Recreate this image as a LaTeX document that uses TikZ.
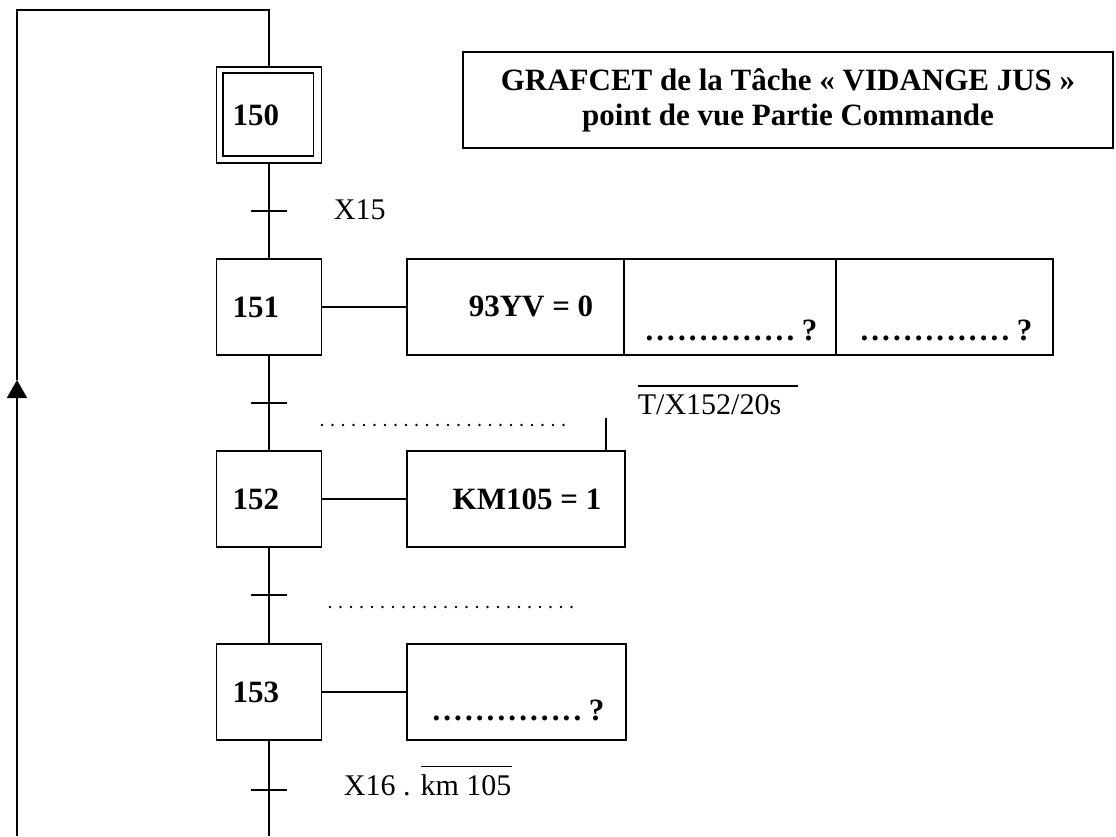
\documentclass[tikz,border=0pt]{standalone}
\usepackage{fontspec}
\setmainfont{Liberation Serif}
\usetikzlibrary{arrows.meta}
\newcommand\dotrow[1]{\hbox to #1{\xleaders\hbox to 10.7pt{\hss.\hss}\hfill}}
\newcommand\overtxt[2]{\vbox{\hrule height 1.6pt width #2\kern 7pt\hbox{#1}}}
\begin{document}
\begin{tikzpicture}[x=1pt,y=-1pt,line width=1.8pt,
  stepbox/.style={draw,minimum height=96pt,text width=73pt,inner xsep=16pt,inner ysep=0pt,align=left,
    font=\fontsize{31}{31}\selectfont\bfseries},
  actbox/.style={draw,minimum height=96pt,inner sep=0pt},
  bold/.style={inner sep=0pt,font=\fontsize{31}{31}\selectfont\bfseries},
  reg/.style={inner sep=0pt,font=\fontsize{30}{30}\selectfont},
  tick/.style={line width=1.8pt},
  dotted line/.style={line width=2.8pt,line cap=round,dash pattern=on 0pt off 10.5pt},
  titlebox/.style={draw,minimum width=650pt,minimum height=96pt,align=center,
    font=\fontsize{31}{35}\selectfont\bfseries}]
\useasboundingbox (0,0) rectangle (1116,836);

% title
\node[titlebox] (title) at (788,100) {GRAFCET de la Tâche « VIDANGE JUS »\\point de vue Partie Commande};

% steps
\node[stepbox] (s150) at (269,115) {150};
\draw ([shift={(7pt,-7pt)}]s150.north west) rectangle ([shift={(-9pt,8pt)}]s150.south east);
\node[stepbox] (s151) at (269,307) {151};
\node[stepbox] (s152) at (269,499) {152};
\node[stepbox] (s153) at (269,692) {153};

% action boxes
\node[actbox,minimum width=217pt] (a1) at (515.5,307) {};
\node[actbox,minimum width=212pt] (a2) at (730,307) {};
\node[actbox,minimum width=217pt] (a3) at (944.5,307) {};
\node[actbox,minimum width=218pt] (a4) at (516,499) {};
\node[actbox,minimum width=219pt] (a5) at (516.5,692) {};

\node[bold] (t1) at (531,306) {93YV = 0};
\node[bold,anchor=base west] (q2) at (643,340) {\dotrow{152pt}\kern6pt?};
\node[bold,anchor=base west] (q3) at (858,340) {\dotrow{152pt}\kern6pt?};
\node[bold] (t4) at (527,499) {KM105 = 1};
\node[bold,anchor=base west] (q5) at (430,720) {\dotrow{152pt}\kern6pt?};

% step to action links
\draw (s151.east) -- (a1.west);
\draw (s152.east) -- (a4.west);
\draw (s153.east) -- (a5.west);

% main line and loop
\coordinate (top) at (269,10);
\coordinate (tl) at (17,10);
\coordinate (bl) at (17,836);
\coordinate (ar) at (17,380);
\coordinate (bot) at (269,836);
\draw (s150.north) -- (top) -- (tl) -- (ar);
\draw[-{Triangle[length=18pt,width=20pt]}] (bl) -- (ar);
\draw (s150.south) -- (s151.north);
\draw (s151.south) -- (s152.north);
\draw (s152.south) -- (s153.north);
\draw (s153.south) -- (bot);

% transitions
\coordinate (c1) at (269,211);
\coordinate (c2) at (269,403);
\coordinate (c3) at (269,595);
\coordinate (c4) at (269,790);
\foreach \c in {c1,c2,c3,c4} \draw[tick] (\c) +(-18,0) -- +(18,0);

\node[reg,anchor=west] (r1) at (333,210) {X15};
\coordinate (d1a) at (322,425);
\coordinate (d1b) at (570,425);
\draw[dotted line] (d1a) -- (d1b);
\node[reg,anchor=base west] (tm) at (637,414) {\overtxt{T/X152/20s}{160pt}};
\coordinate (tmv) at (606,418);
\draw (tmv) -- (tmv |- a4.north);
\coordinate (d2a) at (330,607);
\coordinate (d2b) at (575,607);
\draw[dotted line] (d2a) -- (d2b);
\node[reg,anchor=base west] (r4) at (343,795) {X16 . \overtxt{km 105}{91pt}};
\end{tikzpicture}
\end{document}
